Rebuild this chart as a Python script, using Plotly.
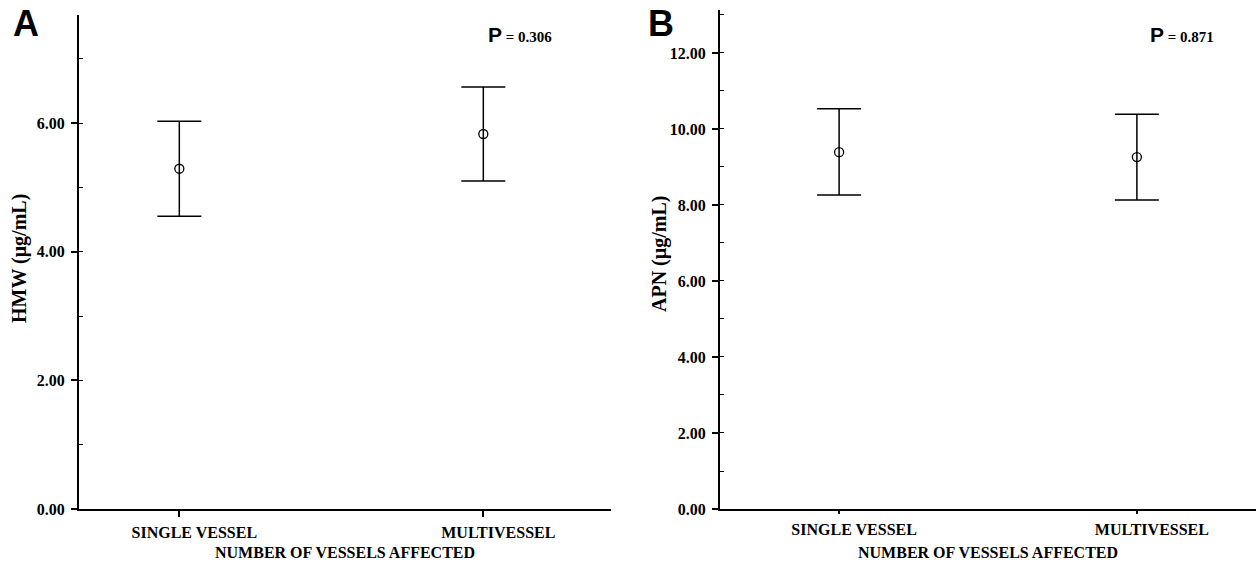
import plotly.graph_objects as go

categories = ["SINGLE VESSEL", "MULTIVESSEL"]
hmw_mean = [5.29, 5.83]
hmw_upper = [6.03, 6.56]
hmw_lower = [4.55, 5.10]
apn_mean = [9.39, 9.26]
apn_upper = [10.53, 10.39]
apn_lower = [8.26, 8.13]
p_values = ["0.306", "0.871"]
hmw_ticks = [0, 2, 4, 6]
apn_ticks = [0, 2, 4, 6, 8, 10, 12]

SERIF = "Liberation Serif"
SANS = "Liberation Sans"

fig = go.Figure()

def add_panel(mean, upper, lower, xa, ya):
    fig.add_trace(go.Scatter(
        x=categories, y=mean, mode="markers",
        marker=dict(symbol="circle-open", size=9, color="black", line=dict(width=1.3, color="black")),
        error_y=dict(type="data", symmetric=False,
                     array=[u - m for u, m in zip(upper, mean)],
                     arrayminus=[m - l for m, l in zip(mean, lower)],
                     color="black", thickness=1.5, width=22),
        xaxis=xa, yaxis=ya, showlegend=False))

add_panel(hmw_mean, hmw_upper, hmw_lower, "x", "y")
add_panel(apn_mean, apn_upper, apn_lower, "x2", "y2")

bottom = (564 - 509) / 564
ytickfont = dict(family=SERIF, size=16, color="black", weight="bold")
xtickfont = dict(family=SERIF, size=16, color="black", weight="bold")

def xaxis_cfg(domain, rng, anchor, ticklen):
    return dict(domain=domain, type="category", range=rng, showline=True, linecolor="black",
                linewidth=2, ticks="outside", ticklen=ticklen, tickwidth=1.5, tickcolor="black",
                showgrid=False, zeroline=False, tickfont=xtickfont, anchor=anchor,
                automargin=False, ticklabelstandoff=2, ticklabelshift=15)

def yaxis_cfg(domain, rng, ticks, anchor):
    return dict(domain=domain, range=rng, showline=True, linecolor="black", linewidth=2,
                tickvals=ticks, tickformat=".2f", ticks="outside", ticklen=6, tickwidth=1.5,
                tickcolor="black", showgrid=False, zeroline=False, tickfont=ytickfont,
                anchor=anchor, automargin=False, ticklabelstandoff=3,
                minor=dict(dtick=1, tick0=0, ticks="inside", ticklen=4, tickwidth=1.2, tickcolor="black"))

fig.update_layout(
    width=1256, height=564, margin=dict(l=0, r=0, t=0, b=0),
    plot_bgcolor="white", paper_bgcolor="white",
    xaxis=xaxis_cfg([79 / 1256, 611 / 1256], [-0.33, 1.42], "y", 6),
    xaxis2=xaxis_cfg([720 / 1256, 1.0], [-0.40, 1.40], "y2", 3),
    yaxis=yaxis_cfg([bottom, 1 - 15 / 564], [0, 7.68], hmw_ticks, "x"),
    yaxis2=yaxis_cfg([bottom, 1 - 10 / 564], [0, 13.13], apn_ticks, "x2"),
)

ann = []
def px(x):
    return x / 1256
def py(y):
    return 1 - y / 564

title_font = dict(family=SERIF, size=16, color="black")
ann.append(dict(x=px(345), y=py(552), text="<b>NUMBER OF VESSELS AFFECTED</b>", showarrow=False,
                xref="paper", yref="paper", font=title_font, xanchor="center", yanchor="middle"))
ann.append(dict(x=px(988), y=py(552), text="<b>NUMBER OF VESSELS AFFECTED</b>", showarrow=False,
                xref="paper", yref="paper", font=title_font, xanchor="center", yanchor="middle"))
ann.append(dict(x=px(19), y=py(259), text="<b>HMW (μg/mL)</b>", showarrow=False, textangle=-90,
                xref="paper", yref="paper", font=dict(family=SERIF, size=20, color="black"),
                xanchor="center", yanchor="middle"))
ann.append(dict(x=px(659), y=py(254), text="<b>APN (µg/mL)</b>", showarrow=False, textangle=-90,
                xref="paper", yref="paper", font=dict(family=SERIF, size=20, color="black"),
                xanchor="center", yanchor="middle"))
ann.append(dict(x=px(25.5), y=py(24), text="<b>A</b>", showarrow=False, xref="paper", yref="paper",
                font=dict(family=SANS, size=36, color="black"), xanchor="center", yanchor="middle"))
ann.append(dict(x=px(661), y=py(24), text="<b>B</b>", showarrow=False, xref="paper", yref="paper",
                font=dict(family=SANS, size=36, color="black"), xanchor="center", yanchor="middle"))
for xc, pv in zip([520, 1182], p_values):
    ann.append(dict(x=px(xc), y=py(34), showarrow=False, xref="paper", yref="paper",
                    text=f"<span style='font-family:{SANS};font-size:21px'><b>P</b></span>"
                         f"<b> = {pv}</b>",
                    font=dict(family=SERIF, size=15, color="black"), xanchor="center", yanchor="middle"))
fig.update_layout(annotations=ann)

fig.write_html("out.html", config={"displayModeBar": False},
               post_script="document.body.style.margin='0';")
